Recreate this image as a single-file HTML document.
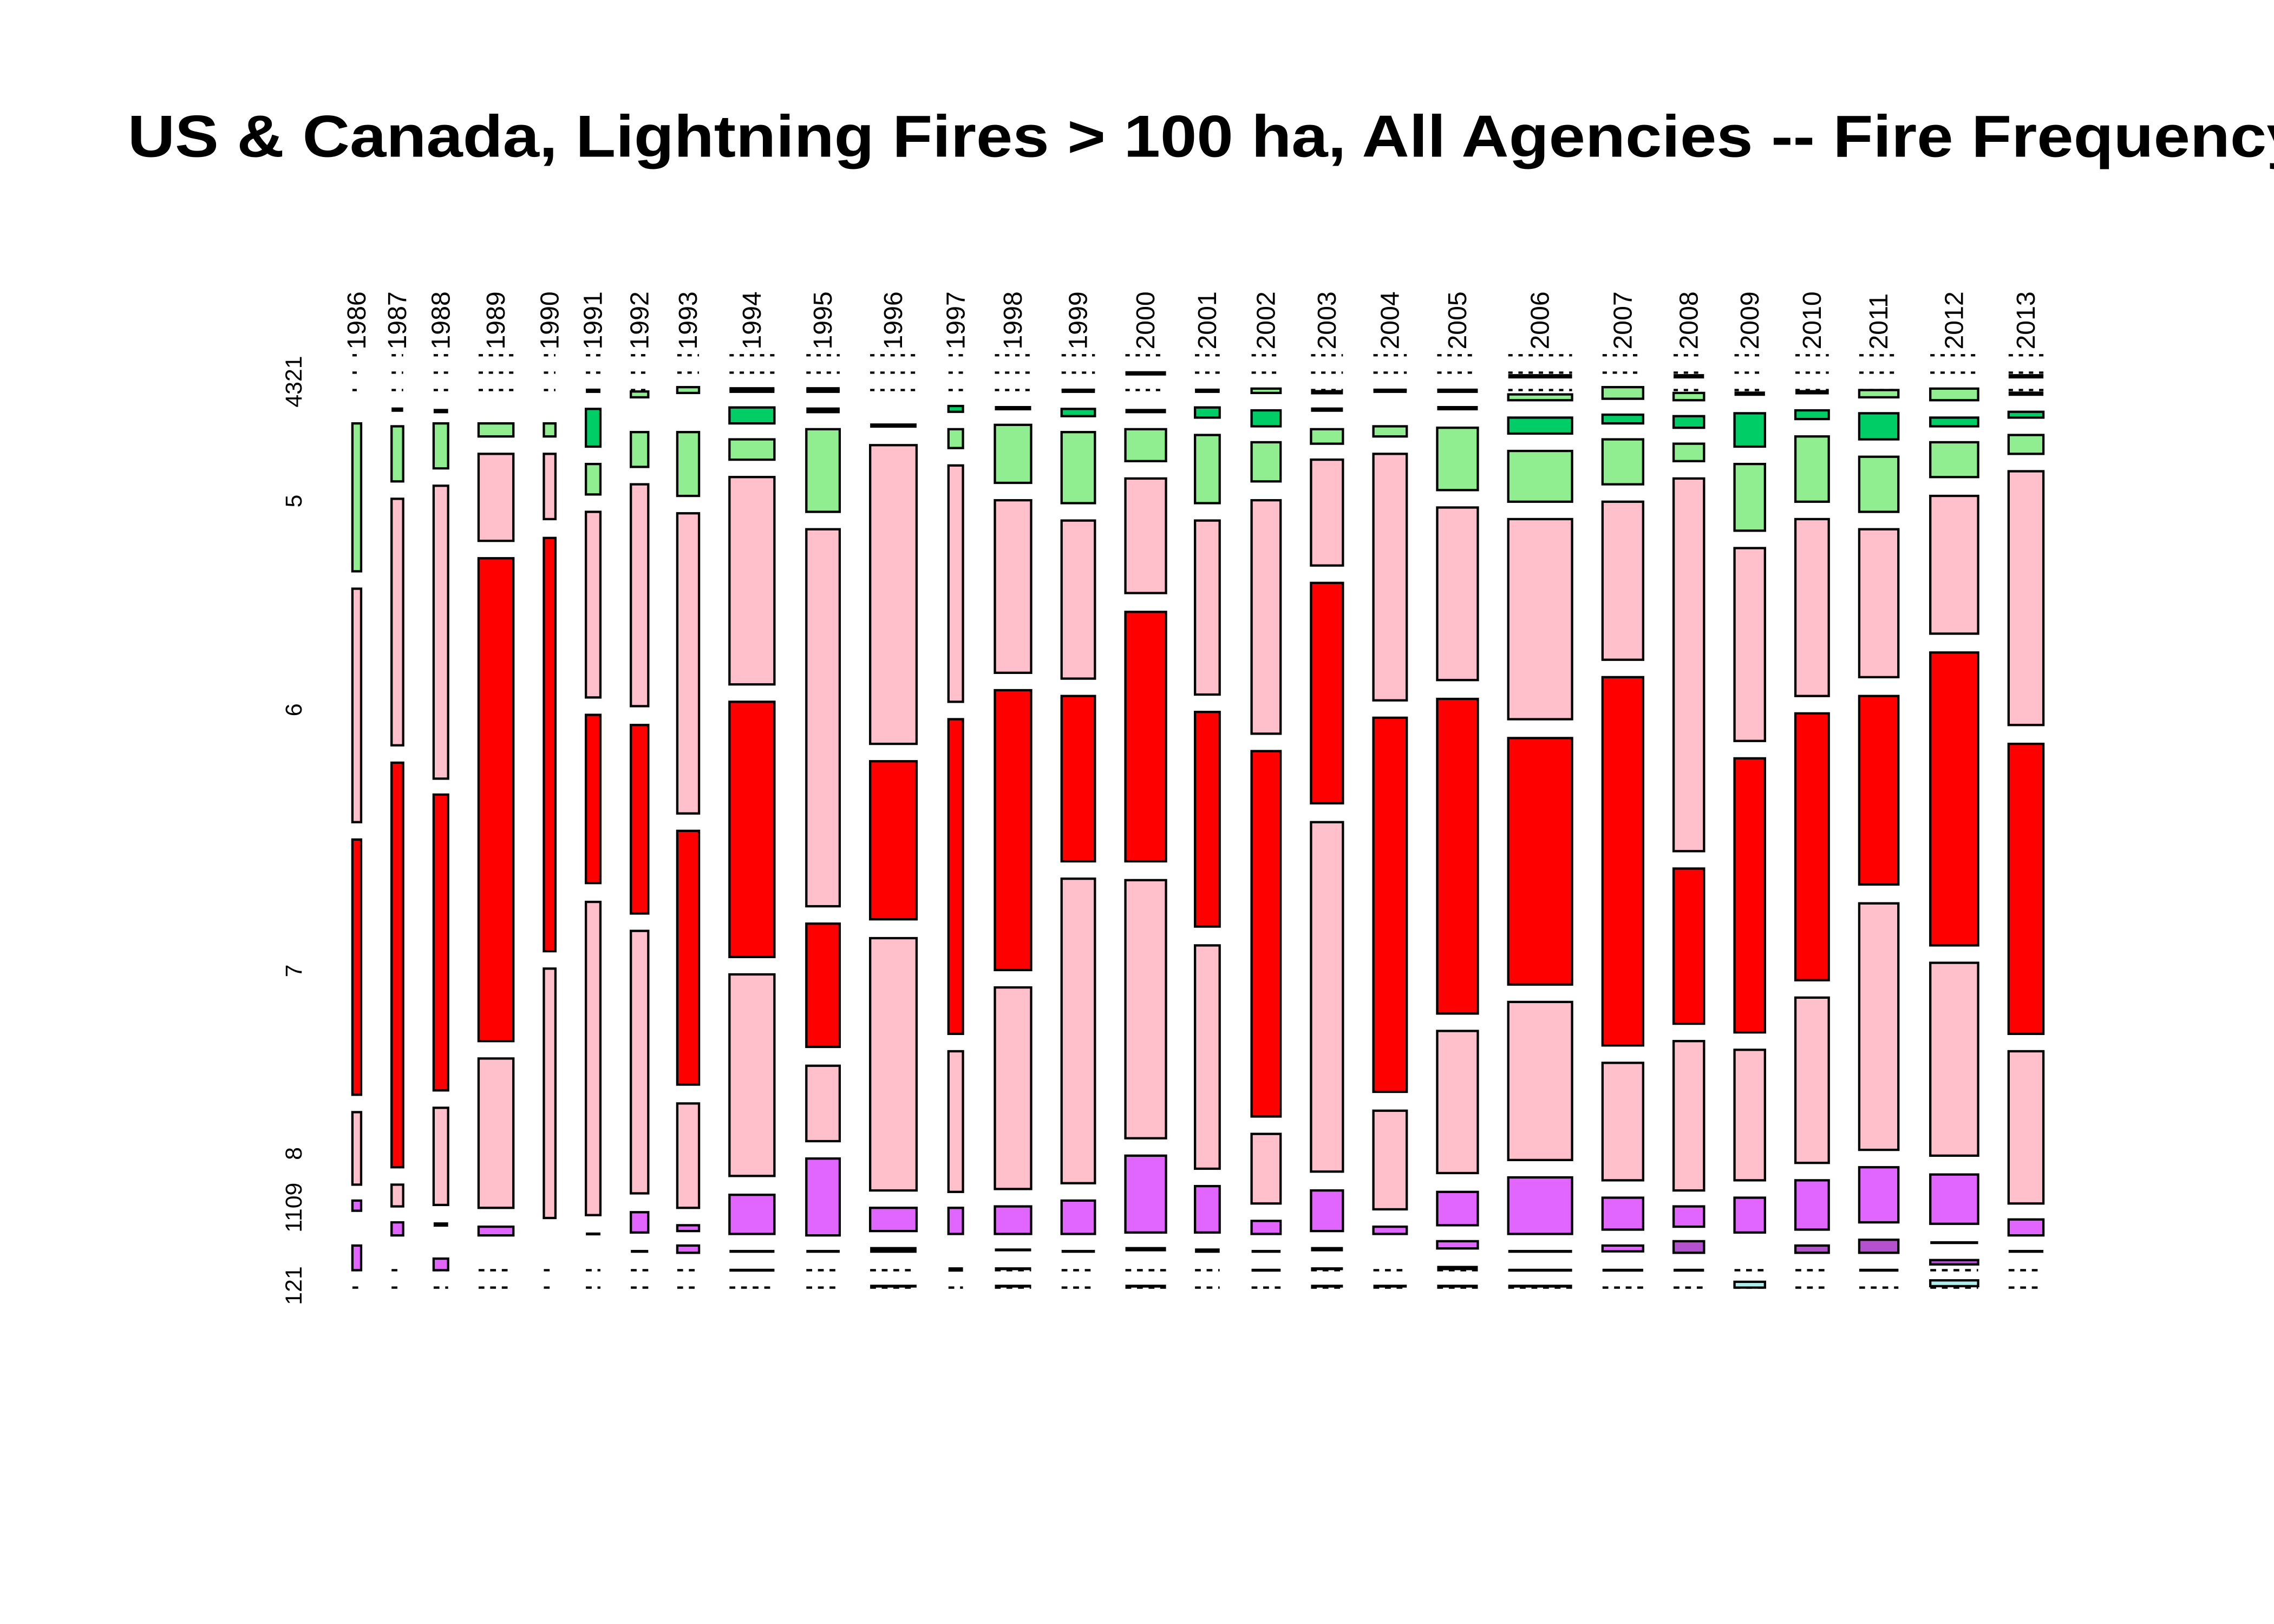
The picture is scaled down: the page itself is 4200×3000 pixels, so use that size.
<!DOCTYPE html>
<html><head><meta charset="utf-8"><style>html,body{margin:0;padding:0;background:#fff}svg{display:block}</style></head>
<body>
<svg id="s" xmlns="http://www.w3.org/2000/svg" width="4200" height="3000" viewBox="0 0 1568 1120" font-family="Liberation Sans, sans-serif">
<rect width="1568" height="1120" fill="#fff"/>
<text x="88" y="108" font-size="41" font-weight="bold" textLength="1500" lengthAdjust="spacingAndGlyphs">US &amp; Canada, Lightning Fires &gt; 100 ha, All Agencies -- Fire Frequency</text>
<g font-size="16" fill="#000">
<text transform="translate(208,281) rotate(-90)">4321</text>
<text transform="translate(208,350) rotate(-90)">5</text>
<text transform="translate(208,494) rotate(-90)">6</text>
<text transform="translate(208,674) rotate(-90)">7</text>
<text transform="translate(208,800) rotate(-90)">8</text>
<text transform="translate(208,850) rotate(-90)">1109</text>
<text transform="translate(208,900) rotate(-90)">121</text>
</g>
<g id="g"></g>
</svg>
<script>
var C={d:"#00CD66",g:"#90EE90",p:"#FFC0CB",r:"#FF0000",v:"#E066FF",o:"#B452CD",c:"#AEEEEE",k:"#000"};
var D=[
[1986,243,249,[["g",292,394],["p",406,567],["r",579,755],["p",767,817],["v",828,835],["v",859,876]]],
[1987,270,278,[["k",281,284],["g",294,332],["p",344,514],["r",526,805],["p",817,832],["v",843,852]]],
[1988,299,309,[["k",282,285],["g",292,323],["p",335,537],["r",548,752],["p",764,831],["k",843,846],["v",868,876]]],
[1989,330,354,[["g",292,301],["p",313,373],["r",385,718],["p",730,833],["v",846,852]]],
[1990,375,383,[["g",292,301],["p",313,358],["r",371,656],["p",668,840]]],
[1991,404,414,[["k",268,271],["d",282,308],["g",320,341],["p",353,481],["r",493,609],["p",622,838],["k",850,852]]],
[1992,435,447,[["g",270,274],["g",298,322],["p",334,487],["r",500,630],["p",642,823],["v",836,850],["k",862,864]]],
[1993,467,482,[["g",267,271],["g",298,342],["p",354,561],["r",573,748],["p",761,833],["v",845,849],["v",859,864]]],
[1994,503,534,[["k",267,271],["d",281,292],["g",303,317],["p",329,472],["r",484,660],["p",672,811],["v",824,851],["k",862,864],["k",875,877]]],
[1995,556,579,[["k",267,271],["k",281,285],["g",296,353],["p",365,625],["r",637,722],["p",735,787],["v",799,852],["k",862,864]]],
[1996,600,632,[["k",292,295],["p",307,513],["r",525,634],["p",647,821],["v",833,849],["k",860,864],["k",886,888]]],
[1997,654,664,[["d",280,284],["g",296,309],["p",321,484],["r",496,713],["p",725,822],["v",833,851],["k",874,877]]],
[1998,686,711,[["k",280,283],["g",293,333],["p",345,464],["r",476,669],["p",681,820],["v",832,851],["k",861,863],["k",874,876],["k",886,888]]],
[1999,732,755,[["k",268,271],["d",282,287],["g",298,347],["p",359,468],["r",480,594],["p",606,816],["v",828,851],["k",862,864]]],
[2000,776,804,[["k",256,259],["k",282,285],["g",296,318],["p",330,409],["r",422,594],["p",607,785],["v",797,850],["k",860,863],["k",886,888]]],
[2001,824,841,[["k",268,271],["d",281,288],["g",300,347],["p",359,479],["r",491,639],["p",652,806],["v",818,850],["k",861,864]]],
[2002,863,883,[["g",268,271],["d",283,294],["g",305,332],["p",345,506],["r",518,770],["p",782,830],["v",842,851],["k",862,864],["k",875,877]]],
[2003,904,926,[["k",269,272],["k",281,284],["g",296,306],["p",317,390],["r",402,554],["p",567,808],["v",821,849],["k",860,863],["k",874,876],["k",886,888]]],
[2004,947,970,[["k",268,271],["g",294,301],["p",313,483],["r",495,753],["p",766,834],["v",846,851],["k",886,888]]],
[2005,991,1019,[["k",268,271],["k",280,283],["g",295,338],["p",350,469],["r",482,699],["p",711,809],["v",822,845],["v",856,861],["k",873,876],["k",886,888]]],
[2006,1040,1084,[["k",258,261],["g",272,276],["d",288,299],["g",311,346],["p",358,496],["r",509,679],["p",691,800],["v",812,851],["k",862,864],["k",875,877],["k",886,888]]],
[2007,1105,1133,[["g",267,275],["d",286,292],["g",303,334],["p",346,455],["r",467,721],["p",733,814],["v",826,848],["v",859,863],["k",875,877]]],
[2008,1154,1175,[["k",258,261],["g",271,276],["d",287,295],["g",306,318],["p",330,587],["r",599,706],["p",718,821],["v",832,846],["o",856,864],["k",875,877]]],
[2009,1196,1217,[["k",270,273],["d",285,308],["g",320,366],["p",378,511],["r",523,712],["p",724,814],["v",826,850],["c",884,888]]],
[2010,1238,1261,[["k",269,272],["d",283,289],["g",301,346],["p",358,480],["r",492,676],["p",688,802],["v",814,848],["o",859,864]]],
[2011,1282,1309,[["g",269,274],["d",285,303],["g",315,353],["p",365,467],["r",480,610],["p",623,793],["v",805,843],["o",855,864],["k",875,877]]],
[2012,1331,1364,[["g",268,276],["d",288,294],["g",305,329],["p",342,437],["r",450,652],["p",664,797],["v",810,844],["k",856,858],["o",869,872],["c",883,887]]],
[2013,1385,1409,[["k",258,261],["k",270,273],["d",284,288],["g",300,313],["p",325,500],["r",513,713],["p",725,830],["v",841,852],["k",862,864]]]
];
var g=document.getElementById("g"),h="";
D.forEach(function(c){
 var y=c[0],x0=c[1],x1=c[2],w=x1-x0,cx=(x0+x1)/2;
 h+='<text font-size="18" transform="translate('+(cx+6)+',241) rotate(-90)">'+y+'</text>';
 [245,257,269].forEach(function(yy){h+='<line x1="'+x0+'" x2="'+x1+'" y1="'+yy+'" y2="'+yy+'" stroke="#000" stroke-width="1.6" stroke-dasharray="3,4"/>';});
 [876,888].forEach(function(yy){h+='<line x1="'+x0+'" x2="'+x1+'" y1="'+yy+'" y2="'+yy+'" stroke="#000" stroke-width="1.6" stroke-dasharray="4,4"/>';});
 c[3].forEach(function(b){
  var col=C[b[0]],hh=b[2]-b[1];
  if(b[0]=="k"){h+='<rect x="'+x0+'" y="'+b[1]+'" width="'+w+'" height="'+hh+'" fill="#000"/>';}
  else h+='<rect x="'+x0+'" y="'+b[1]+'" width="'+w+'" height="'+hh+'" fill="'+col+'" stroke="#000" stroke-width="1.6"/>';
 });
});
g.innerHTML=h;
</script>
</body></html>
